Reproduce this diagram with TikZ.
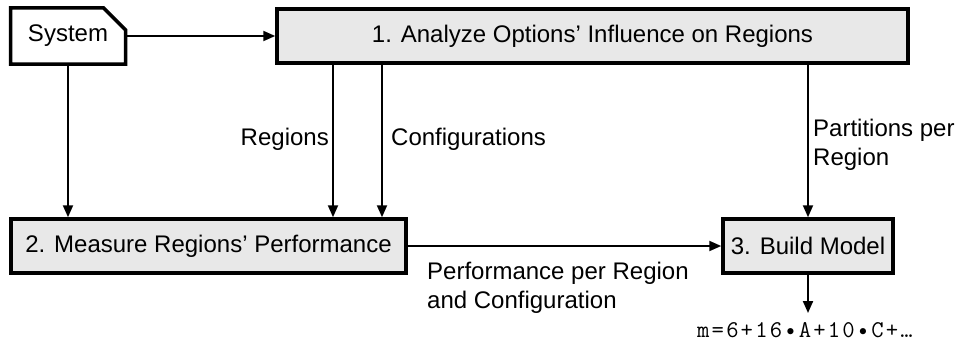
\documentclass[tikz,border=0pt]{standalone}
\usepackage{fontspec}
\setmainfont{Liberation Sans}
\newfontfamily\monof[LetterSpace=9]{Latin Modern Mono}
\usetikzlibrary{arrows.meta,shapes.misc}
\definecolor{boxgray}{HTML}{E8E8E8}
\tikzset{
  procbox/.style={draw=black, line width=3.5pt, fill=boxgray, inner sep=0pt, font=\fontsize{24}{29}\selectfont},
  sysbox/.style={draw=black, line width=3.5pt, fill=white, inner sep=0pt, font=\fontsize{24}{29}\selectfont,
     chamfered rectangle, chamfered rectangle corners=north east, chamfered rectangle xsep=11pt, chamfered rectangle ysep=11pt},
  arr/.style={draw=black, line width=2pt, -{Triangle[length=12pt,width=10pt]}},
  lbl/.style={inner sep=0pt, font=\fontsize{24}{29}\selectfont, align=left},
}
\begin{document}
\begin{tikzpicture}[x=1pt,y=-1pt]
\useasboundingbox (0,0) rectangle (960,345);
\node[sysbox, minimum width=115pt, minimum height=56pt] (sys) at (68,36) {System};
\node[procbox, minimum width=631pt, minimum height=54pt] (b1) at (592.5,36) {1. Analyze Options’ Influence on Regions};
\node[procbox, minimum width=395pt, minimum height=54pt] (b2) at (208.5,246) {2. Measure Regions’ Performance};
\node[procbox, minimum width=170pt, minimum height=54pt] (b3) at (808,246) {3. Build Model};
\coordinate (xr) at (333,0);
\coordinate (xc) at (382,0);
\coordinate (xp) at (808,0);
\coordinate (fend) at (808,313);
\draw[arr] (sys.east) -- (b1.west);
\draw[arr] (sys.south) -- (sys.south |- b2.north);
\draw[arr] (b1.south -| xr) -- (b2.north -| xr);
\draw[arr] (b1.south -| xc) -- (b2.north -| xc);
\draw[arr] (b1.south -| xp) -- (b3.north);
\draw[arr] (b2.east) -- (b3.west);
\draw[arr] (b3.south) -- (fend);
\node[lbl, anchor=base east] (lr) at (329,145) {Regions};
\node[lbl, anchor=base west] (lc) at (391,145) {Configurations};
\node[lbl, anchor=north west] (lp) at (813,119) {Partitions per\\Region};
\node[lbl, anchor=north west] (lpc) at (427,262) {Performance per Region\\and Configuration};
\node[inner sep=0pt, anchor=base west, font=\monof\fontsize{24}{29}\selectfont] (form) at (697,337) {m=6+16•A+10•C+…};
\end{tikzpicture}
\end{document}
